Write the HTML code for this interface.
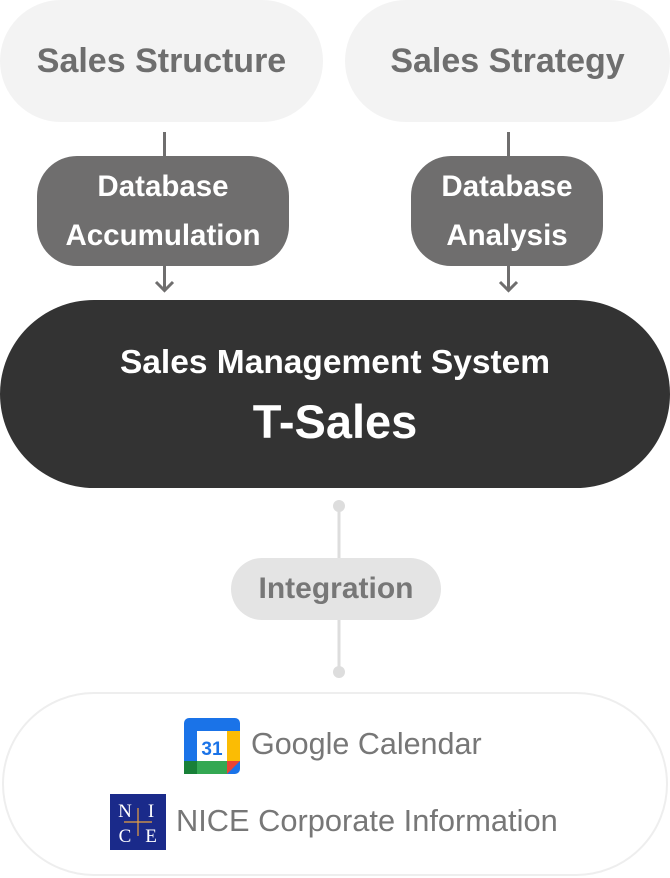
<!DOCTYPE html>
<html><head><meta charset="utf-8"><style>
body{margin:0;width:670px;height:878px;background:#fff;position:relative;overflow:hidden;font-family:"Liberation Sans",sans-serif}
.a{position:absolute;box-sizing:border-box;display:flex;align-items:center;justify-content:center;text-align:center}
.top{background:#f3f3f3;color:#6e6e6e;font-size:34px;font-weight:bold;border-radius:61px;top:0;height:122px}
.db{background:#6f6e6e;color:#fff;font-size:29.5px;font-weight:bold;border-radius:40px;top:157px;height:110px;line-height:49px}
.ln{position:absolute;background:#6f6e6e;width:3px}
</style></head><body>
<div class="a top" style="left:0;width:323px">Sales Structure</div>
<div class="a top" style="left:345px;width:325px">Sales Strategy</div>
<div class="ln" style="left:163px;top:132px;height:26px"></div>
<div class="ln" style="left:507px;top:132px;height:26px"></div>
<div class="a db" style="left:37px;width:252px;top:156px">Database<br>Accumulation</div>
<div class="a db" style="left:411px;width:192px;top:156px">Database<br>Analysis</div>
<svg style="position:absolute;left:0;top:266px" width="670" height="30"><g stroke="#6f6e6e" stroke-width="3" fill="none"><path d="M164.5 0V23M156 16l8.5 8.5 8.5-8.5"/><path d="M508.5 0V23M500 16l8.5 8.5 8.5-8.5"/></g></svg>
<div class="a" style="left:0;top:300px;width:670px;height:188px;background:#333;border-radius:94px;color:#fff;flex-direction:column">
<div style="font-size:33.5px;font-weight:bold;margin-top:4px">Sales Management System</div>
<div style="font-size:47px;font-weight:bold;margin-top:12px">T-Sales</div></div>
<svg style="position:absolute;left:0;top:495px" width="670" height="190"><g fill="#ddd"><rect x="337.5" y="11" width="3" height="166"/><circle cx="339" cy="11" r="6"/><circle cx="339" cy="177" r="6"/></g></svg>
<div class="a" style="left:231px;top:558px;width:210px;height:62px;background:#e4e4e4;border-radius:31px;color:#777;font-size:30px;font-weight:bold">Integration</div>
<div class="a" style="left:2px;top:692px;width:666px;height:184px;border:2px solid #eee;border-radius:92px;background:#fff"></div>
<svg style="position:absolute;left:184px;top:718px" width="56" height="56"><rect width="56" height="56" rx="5" fill="#1a73e8"/><rect x="43" y="13" width="13" height="30" fill="#fbbc04"/><rect x="0" y="43" width="43" height="13" fill="#34a853"/><rect x="0" y="43" width="13" height="13" fill="#188038"/><path d="M43 43h13L43 56z" fill="#ea4335"/><rect x="13" y="13" width="30" height="30" fill="#fff"/><text x="28" y="37" text-anchor="middle" font-size="19" font-weight="bold" fill="#1a73e8" font-family="Liberation Sans">31</text></svg>
<div style="position:absolute;left:251px;top:727px;font-size:30.5px;color:#777">Google Calendar</div>
<svg style="position:absolute;left:110px;top:794px" width="56" height="56"><rect width="56" height="56" fill="#1a2a8a"/><path d="M28 14V42M14 28H42" stroke="#e8a040" stroke-width="1.2"/><g fill="#fff" font-family="Liberation Serif" font-size="19" text-anchor="middle"><text x="15" y="23">N</text><text x="41" y="23">I</text><text x="15" y="48">C</text><text x="41" y="48">E</text></g></svg>
<div style="position:absolute;left:176px;top:803px;font-size:30.8px;color:#777">NICE Corporate Information</div>
</body></html>
